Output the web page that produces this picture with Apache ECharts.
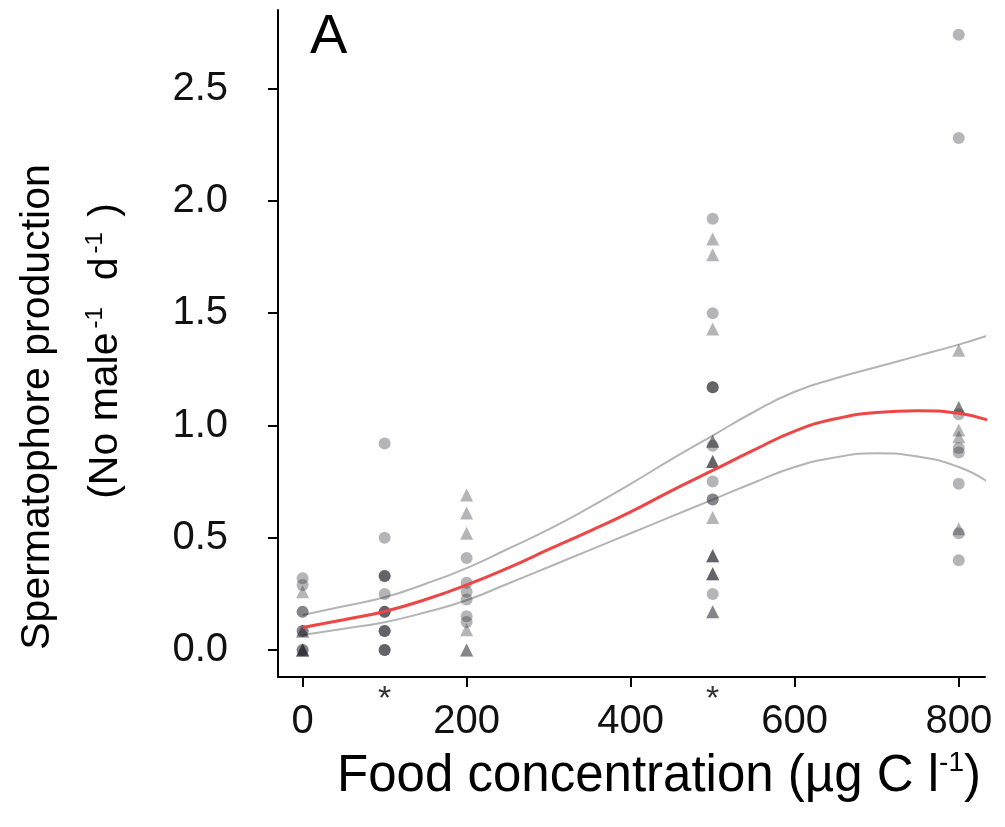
<!DOCTYPE html>
<html>
<head>
<meta charset="utf-8">
<script src="https://cdn.jsdelivr.net/npm/echarts@6/dist/echarts.min.js"></script>
<style>
html,body{margin:0;padding:0;background:#fff;}
#chart{width:1005px;height:827px;}
</style>
</head>
<body>
<div id="chart"></div>
<script>
// ---- Data ----
const foodLevels = [0, 100, 200, 500, 800];
const circles_0   = [0.32, 0.29, 0.17, 0.17, 0.085, 0.085, 0, 0];
const triangles_0 = [0.26, 0.085, 0.085, 0, 0, 0, 0];
const circles_100   = [0.92, 0.50, 0.33, 0.33, 0.33, 0.25, 0.17, 0.17, 0.17, 0.085, 0.085, 0.085, 0, 0, 0];
const triangles_100 = [];
const circles_200   = [0.41, 0.30, 0.26, 0.225, 0.15, 0.125];
const triangles_200 = [0.69, 0.61, 0.52, 0.09, 0, 0];
const circles_500   = [1.92, 1.50, 1.17, 1.17, 1.17, 0.91, 0.75, 0.67, 0.67, 0.25];
const triangles_500 = [1.83, 1.76, 1.43, 0.93, 0.93, 0.84, 0.84, 0.84, 0.59, 0.42, 0.42, 0.42, 0.34, 0.34, 0.34, 0.17, 0.17];
const circles_800   = [2.74, 2.28, 1.05, 0.90, 0.88, 0.74, 0.52, 0.40];
const triangles_800 = [1.335, 1.08, 1.08, 0.98, 0.95, 0.54];

const fitFood  = [0, 50, 100, 150, 200, 250, 300, 350, 400, 450, 500, 550, 600, 650, 700, 750, 800, 835];
const fitMean  = [0.10, 0.135, 0.172, 0.225, 0.29, 0.365, 0.448, 0.53, 0.615, 0.71, 0.80, 0.89, 0.975, 1.03, 1.058, 1.066, 1.054, 1.025];
const fitUpper = [0.156, 0.195, 0.235, 0.295, 0.365, 0.45, 0.537, 0.635, 0.74, 0.85, 0.955, 1.06, 1.15, 1.21, 1.26, 1.31, 1.36, 1.40];
const fitLower = [0.067, 0.095, 0.124, 0.168, 0.222, 0.295, 0.37, 0.445, 0.52, 0.595, 0.67, 0.745, 0.815, 0.858, 0.876, 0.862, 0.815, 0.75];

const xTickValues = [0, 200, 400, 600, 800];
const yTickValues = [0, 0.5, 1.0, 1.5, 2.0, 2.5];
const starFood = [100, 500];

// ---- Build series data ----
const circleGroups = [circles_0, circles_100, circles_200, circles_500, circles_800];
const triangleGroups = [triangles_0, triangles_100, triangles_200, triangles_500, triangles_800];
function pairs(groups) {
  const out = [];
  groups.forEach((g, i) => g.forEach(v => out.push([foodLevels[i], v])));
  return out;
}
const zip = (xs, ys) => xs.map((x, i) => [x, ys[i]]);

const FONT = "'Liberation Sans', Arial, sans-serif";
const pointColor = 'rgba(36,36,44,0.42)';
const supStyle = { fontSize: 24, fontFamily: FONT, fill: '#000', verticalAlign: 'top', lineHeight: 22 };

const chart = echarts.init(document.getElementById('chart'));
chart.setOption({
  animation: false,
  backgroundColor: '#ffffff',
  grid: { left: 278, top: 10, right: 20, bottom: 150 },
  xAxis: [{
    type: 'value', min: -30, max: 832,
    axisLine: { show: true, onZero: false, lineStyle: { color: '#000', width: 2 } },
    axisTick: { show: true, length: 10, lineStyle: { color: '#000', width: 2 }, customValues: xTickValues },
    axisLabel: { customValues: xTickValues, margin: 25, fontSize: 40, color: '#111', fontFamily: FONT },
    splitLine: { show: false }
  }, {
    type: 'value', min: -30, max: 832, position: 'bottom',
    axisLine: { show: false }, axisTick: { show: false }, splitLine: { show: false },
    axisLabel: { customValues: starFood, formatter: () => '*', margin: 6, fontSize: 34, color: '#333', fontFamily: FONT }
  }],
  yAxis: {
    type: 'value', min: -0.12, max: 2.85,
    axisLine: { show: true, onZero: false, lineStyle: { color: '#000', width: 2 } },
    axisTick: { show: true, length: 10, lineStyle: { color: '#000', width: 2 }, customValues: yTickValues },
    axisLabel: { customValues: yTickValues, formatter: v => v.toFixed(1), margin: 50, fontSize: 40, color: '#111', fontFamily: FONT },
    splitLine: { show: false }
  },
  series: [
    { type: 'line', data: zip(fitFood, fitUpper), smooth: true, symbol: 'none', clip: true,
      lineStyle: { color: '#b4b4b4', width: 2 }, z: 2 },
    { type: 'line', data: zip(fitFood, fitLower), smooth: true, symbol: 'none', clip: true,
      lineStyle: { color: '#b4b4b4', width: 2 }, z: 2 },
    { type: 'scatter', data: pairs(circleGroups), symbol: 'circle', symbolSize: 12,
      itemStyle: { color: pointColor }, z: 3 },
    { type: 'scatter', data: pairs(triangleGroups), symbol: 'triangle', symbolSize: 13,
      itemStyle: { color: pointColor }, z: 3 },
    { type: 'line', data: zip(fitFood, fitMean), smooth: true, symbol: 'none', clip: true,
      lineStyle: { color: '#ef4545', width: 3 }, z: 4 }
  ],
  graphic: [
    { type: 'text', left: 310, top: 10, style: { text: 'A', font: '56px ' + FONT, fill: '#000' } },
    { type: 'text', x: 659, y: 777, style: {
        text: '{a|Food concentration (µg C l}{s|-1}{a|)}',
        align: 'center', verticalAlign: 'middle',
        rich: { a: { fontSize: 51, fontFamily: FONT, fill: '#000', lineHeight: 56 },
                s: Object.assign({}, supStyle, { fontSize: 28 }) } } },
    { type: 'text', x: 38, y: 407, rotation: Math.PI / 2, style: {
        text: 'Spermatophore production', align: 'center', verticalAlign: 'middle',
        font: '41px ' + FONT, fill: '#000' } },
    { type: 'text', x: 106, y: 351, rotation: Math.PI / 2, style: {
        text: '{a|(No male}{s|-1}{a|  d}{s|-1}{a| )}',
        align: 'center', verticalAlign: 'middle',
        rich: { a: { fontSize: 41, fontFamily: FONT, fill: '#000', lineHeight: 46 },
                s: Object.assign({}, supStyle, { padding: [0, 4, 0, 4] }) } } }
  ]
});
</script>
</body>
</html>
